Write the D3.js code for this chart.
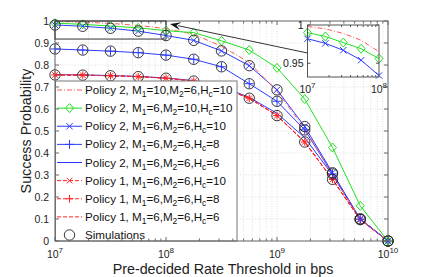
<!DOCTYPE html>
<html><head><meta charset="utf-8">
<script src="https://cdn.jsdelivr.net/npm/d3@7"></script>
<style>body{margin:0;background:#fff}svg{display:block;font-family:"Liberation Sans",Arial,Helvetica,sans-serif}</style>
</head><body><svg id="c" width="429" height="277"></svg>
<script>
// ---- data ----
const thresholds = [1e7, 1.778e7, 3.162e7, 5.623e7, 1e8, 1.778e8, 3.162e8, 5.623e8, 1e9, 1.778e9, 3.162e9, 5.623e9, 1e10];
const p2_M1_10_Hc10 = [0.998, 0.995, 0.989, 0.980, 0.965, 0.940, 0.885, 0.812, 0.680, 0.510, 0.300, 0.100, 0.0];
const p2_M2_10_Hc10 = [0.990, 0.985, 0.977, 0.969, 0.956, 0.947, 0.910, 0.868, 0.787, 0.645, 0.425, 0.160, 0.0];
const p2_Hc10 = [0.982, 0.976, 0.967, 0.954, 0.934, 0.912, 0.864, 0.797, 0.687, 0.520, 0.310, 0.100, 0.0];
const p2_Hc8  = [0.873, 0.868, 0.863, 0.856, 0.845, 0.826, 0.792, 0.715, 0.635, 0.505, 0.305, 0.100, 0.0];
const p2_Hc6  = [0.756, 0.755, 0.752, 0.748, 0.741, 0.729, 0.702, 0.653, 0.580, 0.470, 0.300, 0.100, 0.0];
const p1_Hc10 = [0.755, 0.754, 0.751, 0.747, 0.740, 0.727, 0.698, 0.649, 0.570, 0.450, 0.280, 0.097, 0.0];
const p1_Hc8  = [0.755, 0.754, 0.751, 0.747, 0.740, 0.727, 0.698, 0.649, 0.570, 0.450, 0.280, 0.097, 0.0];
const p1_Hc6  = [0.755, 0.754, 0.751, 0.747, 0.740, 0.727, 0.698, 0.649, 0.570, 0.450, 0.280, 0.097, 0.0];
const sim_p2_Hc10 = [0.982, 0.976, 0.967, 0.954, 0.934, 0.912, 0.864, 0.797, 0.687, 0.520, 0.310, 0.100, 0.0];
const sim_p2_Hc8  = [0.873, 0.868, 0.863, 0.856, 0.845, 0.826, 0.792, 0.715, 0.635, 0.505, 0.305, 0.100, 0.0];
const sim_p1_Hc10 = [0.755, 0.754, 0.751, 0.747, 0.740, 0.727, 0.698, 0.649, 0.570, 0.450, 0.280, 0.097, 0.0];
const yTicks = [0, 0.1, 0.2, 0.3, 0.4, 0.5, 0.6, 0.7, 0.8, 0.9, 1];
const yTickLabels = ["0", "0.1", "0.2", "0.3", "0.4", "0.5", "0.6", "0.7", "0.8", "0.9", "1"];
const xTicks = [1e7, 1e8, 1e9, 1e10];
const xTickExps = ["7", "8", "9", "10"];
const insetXTicks = [1e7, 1e8];
const insetXTickExps = ["7", "8"];
const insetYTicks = [0.95, 1];
const insetYTickLabels = ["0.95", "1"];
const legendLabels = [
  ["Policy 2, M", "1", "=10,M", "2", "=6,H", "c", "=10"],
  ["Policy 2, M", "1", "=6,M", "2", "=10,H", "c", "=10"],
  ["Policy 2, M", "1", "=6,M", "2", "=6,H", "c", "=10"],
  ["Policy 2, M", "1", "=6,M", "2", "=6,H", "c", "=8"],
  ["Policy 2, M", "1", "=6,M", "2", "=6,H", "c", "=6"],
  ["Policy 1, M", "1", "=6,M", "2", "=6,H", "c", "=10"],
  ["Policy 1, M", "1", "=6,M", "2", "=6,H", "c", "=8"],
  ["Policy 1, M", "1", "=6,M", "2", "=6,H", "c", "=6"],
  ["Simulations"]
];
const xTitle = "Pre-decided Rate Threshold in bps";
const yTitle = "Success Probability";

// ---- styles ----
const RED = "#ff2020", RED2 = "#ff5a5a", GREEN = "#22e022", BLUE = "#2c3cff";
const series = [
  {v: p2_M1_10_Hc10, color: RED2, dash: "5,2,1,2", marker: null},
  {v: p2_M2_10_Hc10, color: GREEN, dash: null, marker: "diamond"},
  {v: p2_Hc10, color: BLUE, dash: null, marker: "x"},
  {v: p2_Hc8, color: BLUE, dash: null, marker: "plus"},
  {v: p2_Hc6, color: BLUE, dash: null, marker: null},
  {v: p1_Hc10, color: RED, dash: "4,2", marker: "xs"},
  {v: p1_Hc8, color: RED, dash: "4,2", marker: "pluss"},
  {v: p1_Hc6, color: RED, dash: "4,2", marker: null}
];
const drawOrder = [4, 7, 6, 5, 3, 2, 0, 1];

const svg = d3.select("#c");
const L = 55, R = 388, T = 21, B = 241;
const x = d3.scaleLog().domain([1e7, 1e10]).range([L, R]);
const y = d3.scaleLinear().domain([0, 1]).range([B, T]);
const AX = "#666";

svg.append("defs").append("clipPath").attr("id", "clip")
  .append("rect").attr("x", L).attr("y", T - 1).attr("width", R - L).attr("height", B - T + 1);

// grid
const minor = [];
for (let e = 7; e < 10; e++) for (let m = 1; m <= 9; m++) minor.push(m * Math.pow(10, e));
minor.push(1e10);
const grid = svg.append("g").attr("stroke", "#d4d4d4").attr("stroke-width", 0.7).attr("stroke-dasharray", "1,1.5");
minor.forEach(t => grid.append("line").attr("x1", x(t)).attr("x2", x(t)).attr("y1", T).attr("y2", B));
yTicks.forEach(t => grid.append("line").attr("x1", L).attr("x2", R).attr("y1", y(t)).attr("y2", y(t)));

function marker(g, type, cx, cy, color) {
  const s = g.append("g").attr("stroke", color).attr("fill", "none").attr("stroke-width", 1);
  if (type === "diamond") {
    s.append("path").attr("d", `M${cx},${cy-4.5}L${cx+4},${cy}L${cx},${cy+4.5}L${cx-4},${cy}Z`);
  } else if (type === "x" || type === "xs") {
    const h = type === "x" ? 3.2 : 2.8;
    s.append("path").attr("d", `M${cx-h},${cy-h}L${cx+h},${cy+h}M${cx-h},${cy+h}L${cx+h},${cy-h}`);
  } else if (type === "plus" || type === "pluss") {
    const h = type === "plus" ? 4.5 : 3.8;
    s.append("path").attr("d", `M${cx-h},${cy}L${cx+h},${cy}M${cx},${cy-h}L${cx},${cy+h}`);
  } else if (type === "circle") {
    s.attr("stroke-width", 0.9).append("circle").attr("cx", cx).attr("cy", cy).attr("r", 5.2);
  }
}

// lines
const line = d3.line().x((d, i) => x(thresholds[i])).y(d => y(d));
const lines = svg.append("g").attr("clip-path", "url(#clip)");
drawOrder.forEach(i => {
  const s = series[i];
  lines.append("path").attr("d", line(s.v)).attr("fill", "none").attr("stroke", s.color)
    .attr("stroke-width", 1).attr("stroke-dasharray", s.dash);
});
const mk = svg.append("g");
drawOrder.forEach(i => {
  const s = series[i];
  if (s.marker) s.v.forEach((v, k) => marker(mk, s.marker, x(thresholds[k]), y(v), s.color));
});
[sim_p2_Hc10, sim_p2_Hc8, sim_p1_Hc10].forEach(arr =>
  arr.forEach((v, k) => marker(mk, "circle", x(thresholds[k]), y(v), "#222")));

// legend
const lg = svg.append("g");
const LX0 = L + 0.5, LX1 = 237, LY0 = 81, LY1 = B;
lg.append("rect").attr("x", LX0).attr("y", LY0).attr("width", LX1 - LX0).attr("height", LY1 - LY0)
  .attr("fill", "#fff").attr("stroke", "#777").attr("stroke-width", 1);
const ly = d3.scaleLinear().domain([0, 8]).range([90, 235]);
legendLabels.forEach((lab, i) => {
  const cy = ly(i);
  if (i < 8) {
    const s = series[i];
    lg.append("line").attr("x1", 57).attr("x2", 82).attr("y1", cy).attr("y2", cy)
      .attr("stroke", s.color).attr("stroke-width", 1).attr("stroke-dasharray", s.dash);
    if (s.marker) marker(lg, s.marker, 69.5, cy, s.color);
  } else {
    marker(lg, "circle", 69.5, cy, "#222");
  }
  const t = lg.append("text").attr("x", 85).attr("y", cy + 4).attr("font-size", 11.6).attr("fill", "#111");
  lab.forEach((part, j) => {
    if (j % 2 === 1) t.append("tspan").attr("font-size", 8.5).attr("dy", 3).text(part);
    else t.append("tspan").attr("dy", j === 0 ? 0 : -3).text(part);
  });
});

// axes box and ticks
const ax = svg.append("g").attr("stroke", AX).attr("stroke-width", 1).attr("fill", "none");
ax.append("rect").attr("x", L).attr("y", T).attr("width", R - L).attr("height", B - T);
minor.forEach(t => {
  const len = xTicks.includes(t) ? 4 : 2.5;
  ax.append("line").attr("x1", x(t)).attr("x2", x(t)).attr("y1", B).attr("y2", B - len);
  ax.append("line").attr("x1", x(t)).attr("x2", x(t)).attr("y1", T).attr("y2", T + len);
});
yTicks.forEach(t => {
  ax.append("line").attr("x1", L).attr("x2", L + 4).attr("y1", y(t)).attr("y2", y(t));
  ax.append("line").attr("x1", R).attr("x2", R - 4).attr("y1", y(t)).attr("y2", y(t));
});
const tl = svg.append("g").attr("font-size", 10.5).attr("fill", "#222");
yTicks.forEach((t, i) => tl.append("text").attr("x", L - 6).attr("y", y(t) + 4).attr("text-anchor", "end").text(yTickLabels[i]));
xTicks.forEach((t, i) => {
  const tt = tl.append("text").attr("x", x(t)).attr("y", 257.5).attr("text-anchor", "middle");
  tt.append("tspan").text("10");
  tt.append("tspan").attr("font-size", 8).attr("dy", -5).text(xTickExps[i]);
});
svg.append("text").attr("x", 223).attr("y", 273.5).attr("text-anchor", "middle").attr("font-size", 14.3).attr("fill", "#222").text(xTitle);
svg.append("text").attr("transform", "translate(31,131) rotate(-90)").attr("text-anchor", "middle").attr("font-size", 14.3).attr("fill", "#222").text(yTitle);

// zoom rectangle + arrow
svg.append("rect").attr("x", x(1e7)).attr("y", y(1)).attr("width", x(1e8) - x(1e7)).attr("height", y(0.918) - y(1))
  .attr("fill", "none").attr("stroke", "#333").attr("stroke-width", 1);
const IX0 = 307.5, IX1 = 379, IY0 = 25, IY1 = 77;
const head = [x(1e8) + 4, y(1) + 3], tail = [IX0, 53];
svg.append("line").attr("x1", tail[0]).attr("y1", tail[1]).attr("x2", head[0] + 8).attr("y2", head[1] + 1.7)
  .attr("stroke", "#333").attr("stroke-width", 1);
{
  const ang = Math.atan2(tail[1] - head[1], tail[0] - head[0]);
  const len = 11, w = 4;
  const bx = head[0] + len * Math.cos(ang), by = head[1] + len * Math.sin(ang);
  const px = -Math.sin(ang) * w, py = Math.cos(ang) * w;
  svg.append("path").attr("d", `M${head[0]},${head[1]}L${bx + px},${by + py}L${bx - 0.4*len*Math.cos(ang)},${by - 0.4*len*Math.sin(ang)}L${bx - px},${by - py}Z`)
    .attr("fill", "#111");
}

// inset
const ix = d3.scaleLog().domain([1e7, 1e8]).range([IX0, IX1]);
const iy = d3.scaleLinear().domain([0.932, 1]).range([IY1, IY0]);
const ins = svg.append("g");
ins.append("rect").attr("x", IX0).attr("y", IY0).attr("width", IX1 - IX0).attr("height", IY1 - IY0).attr("fill", "#fff");
const iline = d3.line().x((d, i) => ix(thresholds[i])).y(d => iy(d));
[0, 2, 1].forEach(i => {
  const s = series[i];
  const vals = s.v.slice(0, 5);
  ins.append("path").attr("d", iline(vals)).attr("fill", "none").attr("stroke", s.color).attr("stroke-width", 1).attr("stroke-dasharray", s.dash);
  if (s.marker) vals.forEach((v, k) => marker(ins, s.marker, ix(thresholds[k]), iy(v), s.color));
});
const iax = ins.append("g").attr("stroke", "#555").attr("fill", "none").attr("stroke-width", 1);
iax.append("rect").attr("x", IX0).attr("y", IY0).attr("width", IX1 - IX0).attr("height", IY1 - IY0);
for (let m = 2; m <= 9; m++) {
  const t = m * 1e7;
  iax.append("line").attr("x1", ix(t)).attr("x2", ix(t)).attr("y1", IY1).attr("y2", IY1 - 2);
  iax.append("line").attr("x1", ix(t)).attr("x2", ix(t)).attr("y1", IY0).attr("y2", IY0 + 2);
}
insetYTicks.forEach(t => {
  iax.append("line").attr("x1", IX0).attr("x2", IX0 + 3).attr("y1", iy(t)).attr("y2", iy(t));
  iax.append("line").attr("x1", IX1).attr("x2", IX1 - 3).attr("y1", iy(t)).attr("y2", iy(t));
});
const itl = ins.append("g").attr("font-size", 10.5).attr("fill", "#222");
insetYTicks.forEach((t, i) => itl.append("text").attr("x", IX0 - 4).attr("y", iy(t) + 4).attr("text-anchor", "end").text(insetYTickLabels[i]));
insetXTicks.forEach((t, i) => {
  const tt = itl.append("text").attr("x", ix(t)).attr("y", 93).attr("text-anchor", "middle");
  tt.append("tspan").text("10");
  tt.append("tspan").attr("font-size", 8).attr("dy", -5).text(insetXTickExps[i]);
});
</script></body></html>
